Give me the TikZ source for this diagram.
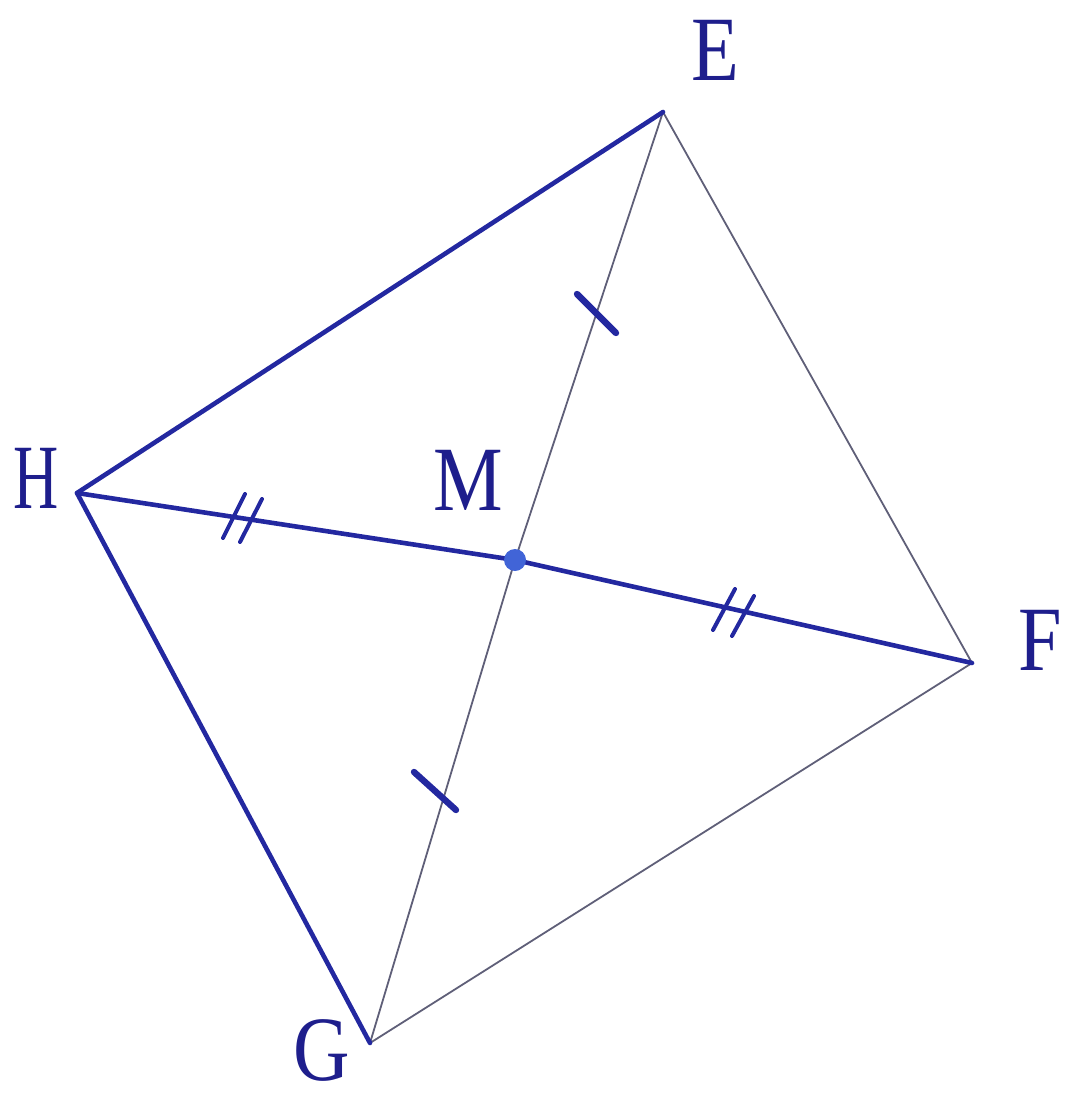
\documentclass[tikz,border=0pt]{standalone}
\usepackage{fontspec}
\setmainfont{Liberation Serif}
\definecolor{lbl}{RGB}{30,30,140}
\definecolor{thick}{RGB}{35,40,160}
\definecolor{thin}{RGB}{95,95,120}
\definecolor{dotc}{RGB}{65,100,215}
\begin{document}
\begin{tikzpicture}[x=0.5pt,y=-0.5pt,
  bold/.style={draw=thick,line width=2.3pt,line join=round,line cap=round},
  fine/.style={draw=thin,line width=0.9pt,line cap=round},
  tickmark/.style={draw=thick,line width=3.2pt,line cap=round},
  dtick/.style={draw=thick,line width=2pt,line cap=round},
  lab/.style={text=lbl,font=\fontsize{46}{46}\selectfont,inner sep=0pt,xscale=0.85}]
\useasboundingbox (0,0) rectangle (1072,1097);
\coordinate (E) at (663,112);
\coordinate (H) at (77,493);
\coordinate (M) at (515,560);
\coordinate (F) at (972,663);
\coordinate (G) at (370,1043);
% thin lines
\draw[fine] (E) -- (M) -- (G);
\draw[fine] (E) -- (F);
\draw[fine] (G) -- (F);
% thick lines
\draw[bold] (E) -- (H) -- (G);
\draw[bold] (H) -- (M) -- (F);
% single ticks
\coordinate (t1a) at (577,294); \coordinate (t1b) at (616,333);
\coordinate (t2a) at (414,772); \coordinate (t2b) at (456,810);
\draw[tickmark] (t1a) -- (t1b);
\draw[tickmark] (t2a) -- (t2b);
% double ticks
\coordinate (d1a) at (245,494); \coordinate (d1b) at (223,538);
\coordinate (d2a) at (262,499); \coordinate (d2b) at (240,542);
\coordinate (d3a) at (735,589); \coordinate (d3b) at (713,630);
\coordinate (d4a) at (754,596); \coordinate (d4b) at (732,636);
\draw[dtick] (d1a) -- (d1b);
\draw[dtick] (d2a) -- (d2b);
\draw[dtick] (d3a) -- (d3b);
\draw[dtick] (d4a) -- (d4b);
% point M
\fill[dotc] (M) circle (11);
% labels
\node[lab] (lE) at (715,50) {E};
\node[lab,xscale=0.8] (lH) at (36,478) {H};
\node[lab] (lM) at (468,480) {M};
\node[lab] (lF) at (1040,640) {F};
\node[lab] (lG) at (322,1050) {G};
\end{tikzpicture}
\end{document}
